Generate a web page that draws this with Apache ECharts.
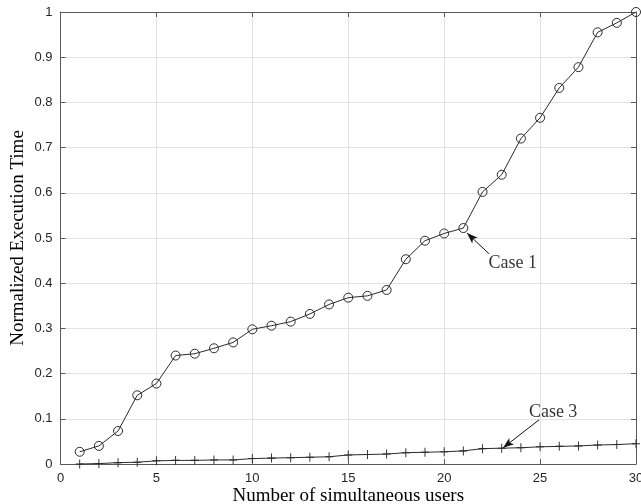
<!DOCTYPE html>
<html><head><meta charset="utf-8">
<script src="https://cdn.jsdelivr.net/npm/echarts@6/dist/echarts.min.js"></script>
<style>html,body{margin:0;padding:0;background:#fff}#c{width:641px;height:504px}</style>
</head><body><div id="c"></div>
<script>
const users = [1,2,3,4,5,6,7,8,9,10,11,12,13,14,15,16,17,18,19,20,21,22,23,24,25,26,27,28,29,30];
const case1 = [0.027,0.040,0.073,0.152,0.178,0.240,0.244,0.256,0.269,0.298,0.306,0.315,0.332,0.353,0.368,0.372,0.385,0.453,0.494,0.510,0.522,0.602,0.640,0.720,0.766,0.832,0.878,0.955,0.976,1.000];
const case3 = [0.000,0.001,0.003,0.004,0.007,0.008,0.008,0.009,0.009,0.012,0.013,0.014,0.015,0.016,0.020,0.021,0.022,0.025,0.026,0.027,0.029,0.034,0.035,0.036,0.038,0.039,0.040,0.042,0.043,0.045];
const xTicks = [0,5,10,15,20,25,30];
const yTicks = [0,0.1,0.2,0.3,0.4,0.5,0.6,0.7,0.8,0.9,1];
const labelNames = ['Case 1','Case 3'];
const labelPos = [[23.57,0.445],[25.68,0.1155]];
const arrowTail = [[22.34,0.465],[24.95,0.0978]];
const arrowHead = [[21.19,0.511],[23.07,0.0358]];

const chart = echarts.init(document.getElementById('c'), null, {renderer:'canvas'});
const lineCol = '#2b2b2b';
const axisCol = '#5a5a5a';
const tickFont = {fontFamily:'Liberation Sans, Arial, sans-serif', fontSize:13, color:'#262626'};
const serif = 'Liberation Serif, Times New Roman, serif';
function xAx(pos, labels){
  return {type:'value', position:pos, min:xTicks[0], max:xTicks[xTicks.length-1], interval:5,
    axisLine:{show:true, onZero:false, lineStyle:{color:axisCol,width:1}},
    axisTick:{show:true, inside:true, length:5, lineStyle:{color:axisCol}},
    axisLabel:Object.assign({show:labels, margin:8}, tickFont),
    splitLine:{show:labels, lineStyle:{color:'#e3e3e3',width:1}},
    name: labels ? 'Number of simultaneous users' : '',
    nameLocation:'middle', nameGap:23, nameMoveOverlap:false,
    nameTextStyle:{fontFamily:serif, fontSize:19, color:'#000'}};
}
function yAx(pos, labels){
  return {type:'value', position:pos, min:yTicks[0], max:yTicks[yTicks.length-1], interval:0.1,
    axisLine:{show:true, onZero:false, lineStyle:{color:axisCol,width:1}},
    axisTick:{show:true, inside:true, length:5, lineStyle:{color:axisCol}},
    axisLabel:Object.assign({show:labels, margin:8, formatter:v=>String(+v.toFixed(1))}, tickFont),
    splitLine:{show:labels, lineStyle:{color:'#e3e3e3',width:1}},
    name: labels ? 'Normalized Execution Time' : '',
    nameLocation:'middle', nameGap:33, nameMoveOverlap:false,
    nameTextStyle:{fontFamily:serif, fontSize:19, color:'#000'}};
}
const option = {
  animation:false,
  backgroundColor:'#fff',
  grid:{left:60.5, right:5, top:12, bottom:40, containLabel:false, outerBoundsMode:'none'},
  xAxis:[xAx('bottom',true), xAx('top',false)],
  yAxis:[yAx('left',true), yAx('right',false)],
  series:[
    {type:'line', name:'Case 1', data:users.map((u,i)=>[u,case1[i]]),
      symbol:'circle', symbolSize:9, showAllSymbol:true,
      lineStyle:{color:lineCol,width:1},
      itemStyle:{color:'rgba(0,0,0,0)', borderColor:lineCol, borderWidth:1},
      markLine:{silent:true, symbol:['none','arrow'], symbolSize:[6,11],
        lineStyle:{color:'#111', width:1, type:'solid'}, label:{show:false},
        data: arrowTail.map((t,i)=>[{coord:t},{coord:arrowHead[i]}])}},
    {type:'line', name:'Case 3', data:users.map((u,i)=>[u,case3[i]]),
      symbol:'path://M5,0L5,10M0,5L10,5', symbolSize:[8,9], showAllSymbol:true, clip:false,
      lineStyle:{color:lineCol,width:1},
      itemStyle:{color:'rgba(0,0,0,0)', borderColor:lineCol, borderWidth:1}},
    {type:'scatter', data:labelPos.map((p,i)=>({value:p, name:labelNames[i]})),
      symbolSize:0, silent:true,
      label:{show:true, position:'inside', formatter:p=>p.name,
        fontFamily:serif, fontSize:18, color:'#000'}}
  ]
};
chart.setOption(option);
</script></body></html>
